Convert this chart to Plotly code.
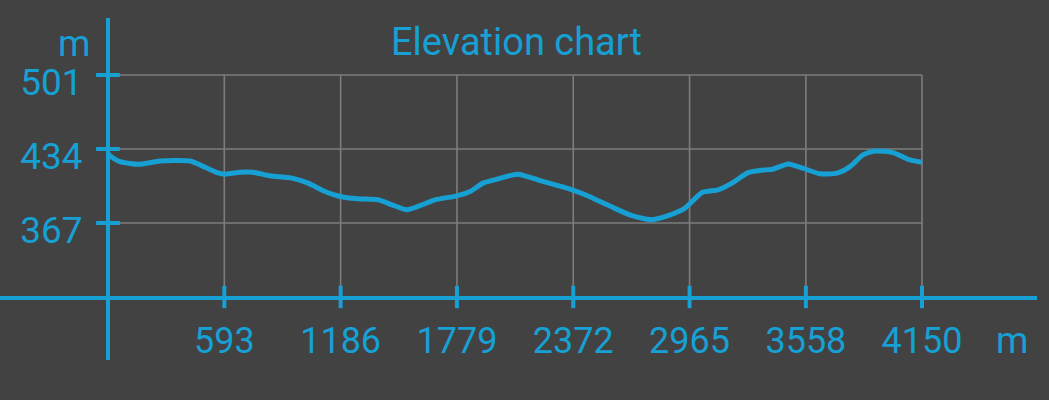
import plotly.graph_objects as go

# ---- data ----
distance_m = [0, 10, 61, 163, 265, 418, 469, 556, 597, 673, 739, 826, 938, 1020, 1106,
              1183, 1275, 1377, 1448, 1524, 1601, 1667, 1779, 1846, 1912, 1983, 2090,
              2203, 2355, 2442, 2508, 2570, 2672, 2774, 2855, 2942, 3029, 3110, 3181,
              3263, 3350, 3390, 3467, 3543, 3630, 3717, 3783, 3849, 3910, 4002, 4079, 4150]
elevation_m = [430, 427.7, 422.5, 420.2, 423.2, 423.2, 419.6, 412.6, 411.2, 413.0, 413.0,
               409.7, 407.6, 403.1, 395.5, 391.0, 388.9, 388.0, 383.5, 379.0, 383.5, 388.0,
               391.6, 395.5, 403.1, 406.7, 411.2, 405.4, 397.7, 391.9, 386.5, 381.4, 373.6,
               370.0, 373.6, 380.5, 394.6, 397.0, 403.1, 412.6, 415.1, 415.7, 420.5, 416.6,
               411.5, 412.1, 418.0, 428.6, 432.2, 430.7, 424.7, 422.0]

x_ticks = [593, 1186, 1779, 2372, 2965, 3558, 4150]
x_tick_labels = ["593", "1186", "1779", "2372", "2965", "3558", "4150"]
y_ticks = [367, 434, 501]
y_tick_labels = ["367", "434", "501"]
y_base = 300          # elevation at the horizontal axis
x_start = 0
x_end = 4150
title_text = "Elevation chart"
unit = "m"

BLUE = "#16a0d4"
BG = "#424242"
GRID = "#7d7d7d"
FONT = "Roboto"

W, H = 1049, 400
# pixel geometry of the reference
x0_px, x_scale = 108, (922 - 108) / 4150.0
y_ref_px, y_scale = 149, (223 - 149) / 67.0
xdom = [0, 1037 / W]
ydom = [(H - 360) / H, (H - 18) / H]

def px_to_x(px):
    return (px - x0_px) / x_scale

def px_to_y(py):
    return 434 - (py - y_ref_px) / y_scale

fig = go.Figure()

# grid (vertical lines from base to top tick, horizontal from start to end)
gx, gy = [], []
top = max(y_ticks)
for t in x_ticks:
    gx += [t, t, None]
    gy += [y_base, top, None]
for t in y_ticks:
    gx += [x_start, x_end, None]
    gy += [t, t, None]
fig.add_trace(go.Scatter(x=gx, y=gy, mode="lines", line=dict(color=GRID, width=1.6),
                         hoverinfo="skip", showlegend=False))

# elevation profile
fig.add_trace(go.Scatter(x=distance_m, y=elevation_m, mode="lines",
                         line=dict(color=BLUE, width=5, shape="spline", smoothing=0.6),
                         showlegend=False))

# crossing tick marks
fig.add_trace(go.Scatter(x=x_ticks, y=[y_base] * len(x_ticks), mode="markers",
                         marker=dict(symbol="line-ns", size=16, line=dict(color=BLUE, width=4)),
                         hoverinfo="skip", showlegend=False))
fig.add_trace(go.Scatter(x=[x_start] * len(y_ticks), y=y_ticks, mode="markers",
                         marker=dict(symbol="line-ew", size=17, line=dict(color=BLUE, width=4)),
                         hoverinfo="skip", showlegend=False))

fig.update_layout(
    width=W, height=H,
    margin=dict(l=0, r=0, t=0, b=0),
    paper_bgcolor=BG, plot_bgcolor=BG,
    font=dict(family=FONT, color=BLUE, size=37),
    xaxis=dict(domain=xdom, range=[px_to_x(0), px_to_x(1037)],
               anchor="free", position=1 - 298 / H,
               showline=True, linecolor=BLUE, linewidth=4,
               showgrid=False, zeroline=False, ticks="",
               tickvals=x_ticks, ticktext=x_tick_labels,
               ticklabelstandoff=10,
               tickfont=dict(family=FONT, size=36, color=BLUE)),
    yaxis=dict(domain=ydom, range=[px_to_y(360), px_to_y(18)],
               anchor="free", position=x0_px / W,
               showline=True, linecolor=BLUE, linewidth=4,
               showgrid=False, zeroline=False, ticks="",
               tickvals=y_ticks, ticktext=y_tick_labels,
               ticklabelstandoff=16, ticklabelshift=7,
               tickfont=dict(family=FONT, size=37, color=BLUE)),
    showlegend=False,
)

fig.add_annotation(text=title_text, xref="paper", yref="paper",
                   x=516 / W, y=1 - 42 / H, xanchor="center", yanchor="middle",
                   showarrow=False, font=dict(family=FONT, size=38, color=BLUE))
fig.add_annotation(text=unit, xref="paper", yref="paper",
                   x=92 / W, y=1 - 43 / H, xanchor="right", yanchor="middle",
                   showarrow=False, font=dict(family=FONT, size=37, color=BLUE))
fig.add_annotation(text=unit, xref="paper", yref="paper",
                   x=1012 / W, y=1 - 340 / H, xanchor="center", yanchor="middle",
                   showarrow=False, font=dict(family=FONT, size=37, color=BLUE))

fig.write_html(
    "out.html",
    config={"displayModeBar": False},
    post_script="document.body.style.margin='0';document.body.style.background='%s';" % BG,
)
